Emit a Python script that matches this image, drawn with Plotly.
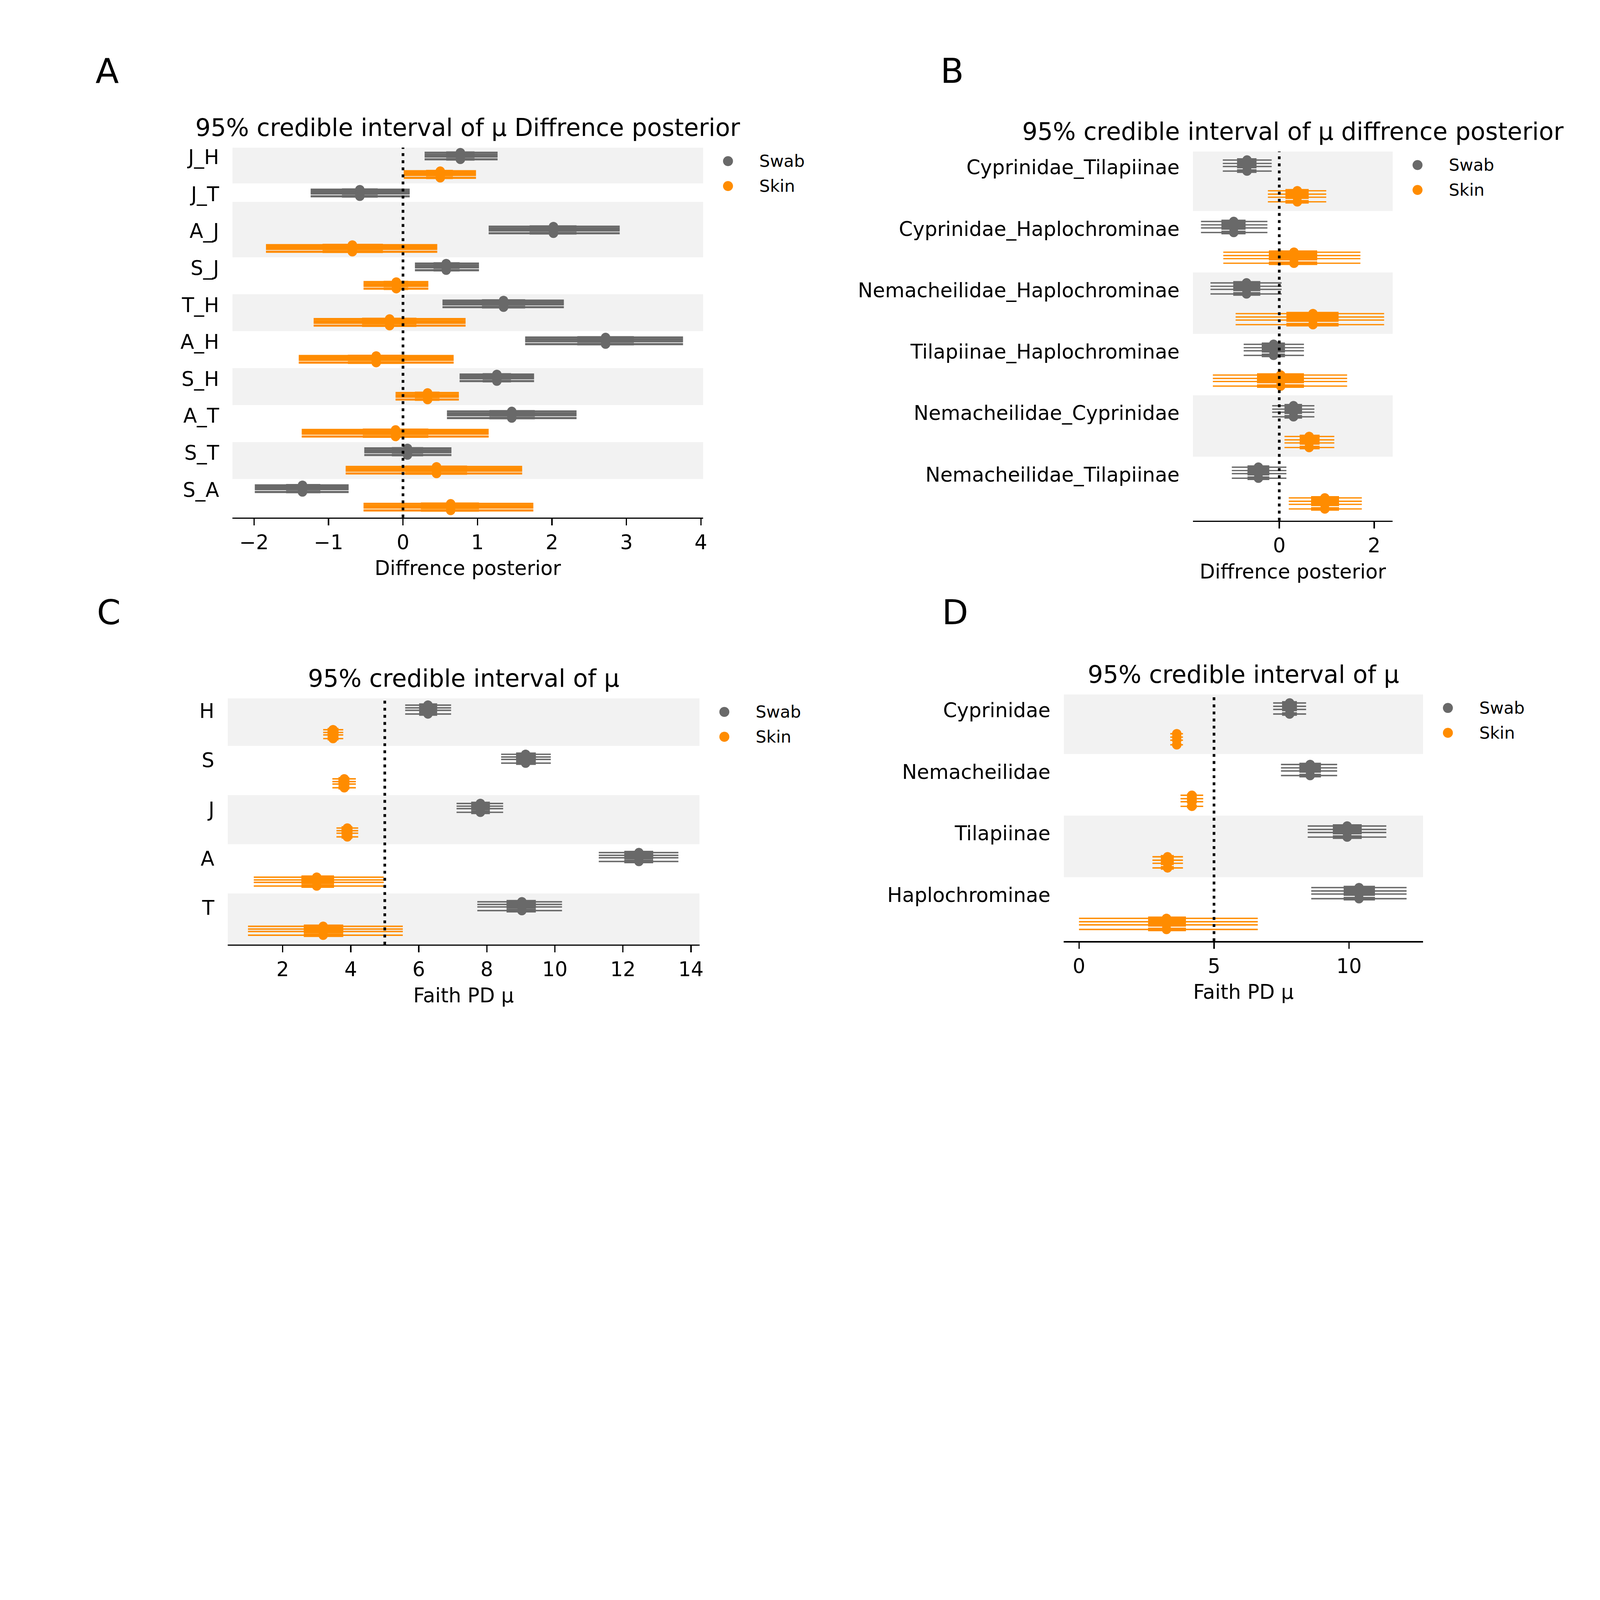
import plotly.graph_objects as go

W, H = 6096, 4572
SWAB_COLOR = "#696969"
SKIN_COLOR = "#ff8c00"
FONT = "DejaVu Sans"

# ---- panel A: pairwise differences (fish groups) ----
A_labels = ["J_H", "J_T", "A_J", "S_J", "T_H", "A_H", "S_H", "A_T", "S_T", "S_A"]
A_swab_med = [0.77, -0.58, 2.02, 0.58, 1.35, 2.72, 1.26, 1.46, 0.06, -1.35]
A_swab_iqr_lo = [0.58, -0.82, 1.70, 0.41, 1.06, 2.34, 1.07, 1.16, -0.15, -1.57]
A_swab_iqr_hi = [0.96, -0.34, 2.33, 0.76, 1.64, 3.10, 1.45, 1.77, 0.27, -1.11]
A_swab_hdi_lo = [0.29, -1.24, 1.15, 0.16, 0.53, 1.64, 0.76, 0.59, -0.52, -1.99]
A_swab_hdi_hi = [1.27, 0.09, 2.91, 1.02, 2.16, 3.76, 1.76, 2.33, 0.65, -0.73]
A_skin_med = [0.50, None, -0.68, -0.09, -0.18, -0.36, 0.33, -0.10, 0.45, 0.64]
A_skin_iqr_lo = [0.31, None, -1.08, -0.26, -0.55, -0.74, 0.16, -0.54, 0.03, 0.24]
A_skin_iqr_hi = [0.67, None, -0.27, 0.07, 0.18, 0.02, 0.49, 0.34, 0.86, 1.02]
A_skin_hdi_lo = [0.01, None, -1.84, -0.53, -1.20, -1.40, -0.10, -1.36, -0.77, -0.53]
A_skin_hdi_hi = [0.98, None, 0.46, 0.34, 0.84, 0.68, 0.75, 1.15, 1.60, 1.75]

# ---- panel B: pairwise differences (families) ----
B_labels = ["Cyprinidae_Tilapiinae", "Cyprinidae_Haplochrominae",
            "Nemacheilidae_Haplochrominae", "Tilapiinae_Haplochrominae",
            "Nemacheilidae_Cyprinidae", "Nemacheilidae_Tilapiinae"]
B_swab_med = [-0.68, -0.96, -0.69, -0.12, 0.30, -0.44]
B_swab_iqr_lo = [-0.89, -1.22, -0.97, -0.37, 0.11, -0.67]
B_swab_iqr_hi = [-0.48, -0.71, -0.40, 0.12, 0.48, -0.21]
B_swab_hdi_lo = [-1.19, -1.65, -1.45, -0.75, -0.15, -1.00]
B_swab_hdi_hi = [-0.16, -0.25, 0.05, 0.52, 0.74, 0.15]
B_skin_med = [0.38, 0.31, 0.71, 0.03, 0.63, 0.96]
B_skin_iqr_lo = [0.13, -0.22, 0.15, -0.47, 0.43, 0.67]
B_skin_iqr_hi = [0.62, 0.80, 1.25, 0.52, 0.85, 1.26]
B_skin_hdi_lo = [-0.24, -1.18, -0.92, -1.40, 0.11, 0.20]
B_skin_hdi_hi = [0.99, 1.71, 2.21, 1.43, 1.16, 1.74]

# ---- panel C: Faith PD mu per group ----
C_labels = ["H", "S", "J", "A", "T"]
C_swab_med = [6.27, 9.14, 7.81, 12.47, 9.03]
C_swab_iqr_lo = [6.01, 8.86, 7.54, 12.04, 8.58]
C_swab_iqr_hi = [6.54, 9.44, 8.09, 12.89, 9.44]
C_swab_hdi_lo = [5.60, 8.42, 7.11, 11.29, 7.72]
C_swab_hdi_hi = [6.95, 9.88, 8.48, 13.63, 10.21]
C_skin_med = [3.48, 3.81, 3.90, 3.00, 3.19]
C_skin_iqr_lo = [3.32, 3.64, 3.73, 2.55, 2.62]
C_skin_iqr_hi = [3.64, 3.96, 4.05, 3.51, 3.78]
C_skin_hdi_lo = [3.19, 3.46, 3.58, 1.15, 0.98]
C_skin_hdi_hi = [3.78, 4.15, 4.22, 4.97, 5.53]

# ---- panel D: Faith PD mu per family ----
D_labels = ["Cyprinidae", "Nemacheilidae", "Tilapiinae", "Haplochrominae"]
D_swab_med = [7.80, 8.56, 9.93, 10.37]
D_swab_iqr_lo = [7.52, 8.16, 9.40, 9.80]
D_swab_iqr_hi = [8.07, 8.96, 10.47, 10.96]
D_swab_hdi_lo = [7.19, 7.48, 8.47, 8.60]
D_swab_hdi_hi = [8.41, 9.56, 11.38, 12.13]
D_skin_med = [3.62, 4.18, 3.28, 3.24]
D_skin_iqr_lo = [3.49, 4.00, 3.03, 2.56]
D_skin_iqr_hi = [3.76, 4.36, 3.51, 3.96]
D_skin_hdi_lo = [3.38, 3.76, 2.72, 0.00]
D_skin_hdi_hi = [3.85, 4.60, 3.85, 6.62]

ref_values = [0, 0, 5, 5]
panel_letters = ["A", "B", "C", "D"]
titles = ["95% credible interval of μ Diffrence posterior",
          "95% credible interval of μ diffrence posterior",
          "95% credible interval of μ",
          "95% credible interval of μ"]
xlabels = ["Diffrence posterior", "Diffrence posterior", "Faith PD μ", "Faith PD μ"]

# chain offsets within a slot (4 chains)
chain_off = [-0.19, -0.08, 0.02, 0.17]

panels = [
    dict(labels=A_labels,
         swab=(A_swab_med, A_swab_iqr_lo, A_swab_iqr_hi, A_swab_hdi_lo, A_swab_hdi_hi),
         skin=(A_skin_med, A_skin_iqr_lo, A_skin_iqr_hi, A_skin_hdi_lo, A_skin_hdi_hi),
         box=(888, 2686, 555, 1967), xr=[-2.29, 4.03], dtick=1, letter_x=363, letter_y=262,
         thin=8, thick=10),
    dict(labels=B_labels,
         swab=(B_swab_med, B_swab_iqr_lo, B_swab_iqr_hi, B_swab_hdi_lo, B_swab_hdi_hi),
         skin=(B_skin_med, B_skin_iqr_lo, B_skin_iqr_hi, B_skin_hdi_lo, B_skin_hdi_hi),
         box=(4557, 5320, 570, 1979), xr=[-1.82, 2.39], dtick=2, letter_x=3590, letter_y=262,
         thin=5, thick=14),
    dict(labels=C_labels,
         swab=(C_swab_med, C_swab_iqr_lo, C_swab_iqr_hi, C_swab_hdi_lo, C_swab_hdi_hi),
         skin=(C_skin_med, C_skin_iqr_lo, C_skin_iqr_hi, C_skin_hdi_lo, C_skin_hdi_hi),
         box=(870, 2672, 2657, 3597), xr=[0.385, 14.25], dtick=2, letter_x=368, letter_y=2330,
         thin=5.5, thick=14),
    dict(labels=D_labels,
         swab=(D_swab_med, D_swab_iqr_lo, D_swab_iqr_hi, D_swab_hdi_lo, D_swab_hdi_hi),
         skin=(D_skin_med, D_skin_iqr_lo, D_skin_iqr_hi, D_skin_hdi_lo, D_skin_hdi_hi),
         box=(4064, 5436, 2642, 3584), xr=[-0.56, 12.74], dtick=5, letter_x=3596, letter_y=2330,
         thin=5.5, thick=14),
]


def px_x(v):
    return v / W


def px_y(v):
    return 1 - v / H


fig = go.Figure()
shapes = []
annotations = []


def add_model(xa, ya, stats, slot_of, color, thin, thick):
    med, ilo, ihi, hlo, hhi = stats
    tx, ty, kx, ky, dx, dy = [], [], [], [], [], []
    for i in range(len(med)):
        if med[i] is None:
            continue
        for off in chain_off:
            y = slot_of(i) + off
            tx += [hlo[i], hhi[i], None]
            ty += [y, y, None]
            kx += [ilo[i], ihi[i], None]
            ky += [y, y, None]
            dx.append(med[i])
            dy.append(y)
    common = dict(xaxis=xa, yaxis=ya, showlegend=False, hoverinfo="skip")
    fig.add_trace(go.Scatter(x=tx, y=ty, mode="lines", line=dict(color=color, width=thin), **common))
    fig.add_trace(go.Scatter(x=kx, y=ky, mode="lines", line=dict(color=color, width=thick), **common))
    fig.add_trace(go.Scatter(x=dx, y=dy, mode="markers",
                             marker=dict(color=color, size=36, line=dict(width=0)), **common))


for k, p in enumerate(panels, start=1):
    xa = "x" if k == 1 else f"x{k}"
    ya = "y" if k == 1 else f"y{k}"
    xl, xr_px, yt, yb = p["box"]
    n = len(p["labels"])
    skin_med = p["skin"][0]

    def last_slot(i):
        return 2 * i + 1 if skin_med[i] is not None else 2 * i

    ymin = -0.47
    ymax = last_slot(n - 1) + 0.55

    # alternating background bands
    prev = ymin
    for i in range(n):
        top = prev
        bot = last_slot(i) + 0.47
        if i % 2 == 0:
            shapes.append(dict(type="rect", xref=f"{xa} domain", yref=ya, x0=0, x1=1,
                               y0=top, y1=bot, fillcolor="#f2f2f2", line_width=0, layer="below"))
        prev = bot

    # reference dotted line
    shapes.append(dict(type="line", xref=xa, yref=f"{ya} domain",
                       x0=ref_values[k - 1], x1=ref_values[k - 1], y0=0, y1=1,
                       line=dict(color="black", width=10, dash="11px,16px"), layer="above"))

    add_model(xa, ya, p["swab"], lambda i: 2 * i, SWAB_COLOR, p["thin"], p["thick"])
    add_model(xa, ya, p["skin"], lambda i: 2 * i + 1, SKIN_COLOR, p["thin"], p["thick"])

    xkey = "xaxis" if k == 1 else f"xaxis{k}"
    ykey = "yaxis" if k == 1 else f"yaxis{k}"
    fig.update_layout(**{
        xkey: dict(domain=[px_x(xl), px_x(xr_px)], anchor=ya, range=p["xr"],
                   dtick=p["dtick"], tick0=0, showgrid=False, zeroline=False,
                   showline=True, linecolor="black", linewidth=5,
                   ticks="outside", ticklen=25, tickwidth=5, tickcolor="black",
                   tickfont=dict(size=76, color="black", family=FONT),
                   title=dict(text=xlabels[k - 1], font=dict(size=76, color="black", family=FONT),
                              standoff=30)),
        ykey: dict(domain=[px_y(yb), px_y(yt)], anchor=xa, range=[ymax, ymin],
                   tickvals=[2 * i + 0.05 for i in range(n)], ticktext=p["labels"],
                   showgrid=False, zeroline=False, showline=False, ticks="",
                   ticklabelstandoff=50,
                   tickfont=dict(size=76, color="black", family=FONT)),
    })

    # title
    annotations.append(dict(text=titles[k - 1], xref=f"{xa} domain", yref=f"{ya} domain",
                            x=0.5, y=1, xanchor="center", yanchor="bottom", yshift=20,
                            showarrow=False, font=dict(size=92, color="black", family=FONT)))
    # panel letter
    annotations.append(dict(text=panel_letters[k - 1], xref="paper", yref="paper",
                            x=px_x(p["letter_x"]), y=px_y(p["letter_y"]),
                            xanchor="left", yanchor="middle", showarrow=False,
                            font=dict(size=130, color="black", family=FONT)))
    # legend
    for j, (name, color) in enumerate([("Swab", SWAB_COLOR), ("Skin", SKIN_COLOR)]):
        cy = yt + 52 + j * 95
        cx = xr_px + 95
        shapes.append(dict(type="circle", xref="paper", yref="paper",
                           xsizemode="pixel", ysizemode="pixel",
                           xanchor=px_x(cx), yanchor=px_y(cy),
                           x0=-19, x1=19, y0=-19, y1=19,
                           fillcolor=color, line_width=0))
        annotations.append(dict(text=name, xref="paper", yref="paper",
                                x=px_x(cx + 118), y=px_y(cy), xanchor="left", yanchor="middle",
                                showarrow=False, font=dict(size=64, color="black", family=FONT)))

fig.update_layout(width=W, height=H, margin=dict(l=0, r=0, t=0, b=0),
                  plot_bgcolor="white", paper_bgcolor="white",
                  font=dict(family=FONT, color="black"),
                  shapes=shapes, annotations=annotations, showlegend=False)

# fit the fixed-size figure into whatever CSS viewport the browser has
fit_js = """
var gd = document.getElementById('{plot_id}');
var s = Math.min(window.innerWidth / %d, window.innerHeight / %d);
document.documentElement.style.overflow = 'hidden';
document.body.style.margin = '0';
document.body.style.overflow = 'hidden';
gd.style.transformOrigin = '0 0';
gd.style.transform = 'scale(' + s + ')';
""" % (W, H)

fig.write_html("out.html", post_script=fit_js, config={"displayModeBar": False})
